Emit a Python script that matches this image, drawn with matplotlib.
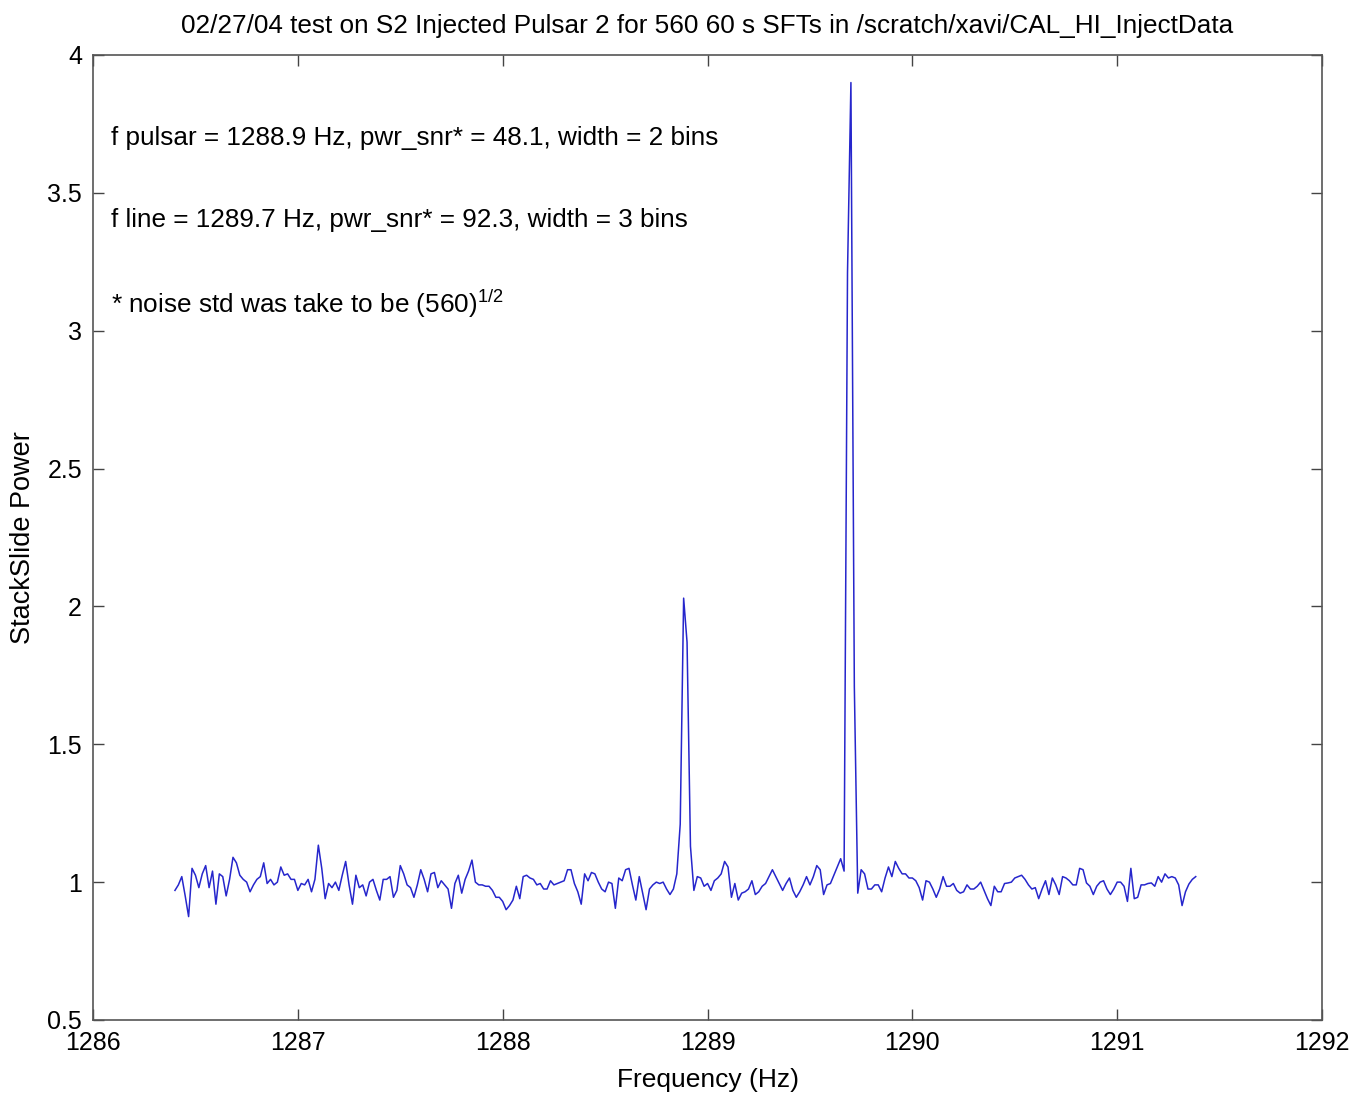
import matplotlib
matplotlib.use("Agg")
import matplotlib.pyplot as plt
import numpy as np
from matplotlib.ticker import FuncFormatter

plt.rcParams['font.family'] = ['Liberation Sans', 'DejaVu Sans']
plt.rcParams['mathtext.fontset'] = 'custom'
plt.rcParams['mathtext.rm'] = 'Liberation Sans'

# frequency grid: 60 s SFTs -> 1/60 Hz bins
f_start = 1286.4
df = 1.0 / 60

# StackSlide power
noise_a = [
    0.97, 0.99, 1.02, 0.95, 0.875, 1.05, 1.025, 0.98, 1.03, 1.06,
    0.98, 1.04, 0.92, 1.03, 1.02, 0.95, 1.01, 1.09, 1.07, 1.025,
    1.01, 1.0, 0.965, 0.99, 1.01, 1.02, 1.07, 0.995, 1.01, 0.99,
    1.0, 1.055, 1.025, 1.03, 1.01, 1.01, 0.97, 0.995, 0.99, 1.01,
    0.965, 1.01, 1.134, 1.05, 0.94, 0.995, 0.98, 1.0, 0.97, 1.025,
    1.075, 0.99, 0.92, 1.025, 0.98, 0.99, 0.95, 1.0, 1.01, 0.97,
    0.935, 1.01, 1.01, 1.02, 0.945, 0.97, 1.06, 1.03, 0.99, 0.98,
    0.945, 0.99, 1.045, 1.01, 0.965, 1.03, 1.035, 0.98, 1.005, 0.99,
    0.975, 0.905, 0.995, 1.025, 0.96, 1.01, 1.04, 1.08, 1.0, 0.99,
    0.99, 0.985, 0.985, 0.97, 0.945, 0.945, 0.93, 0.9, 0.915, 0.935,
    0.985, 0.94, 1.02, 1.025, 1.015, 1.01, 0.99, 0.995, 0.975, 0.975,
    1.005, 0.99, 0.995, 1.0, 1.005, 1.045, 1.045, 0.995, 0.965, 0.92,
    1.03, 1.005, 1.035, 1.03, 1.0, 0.975, 0.965, 1.0, 0.995, 0.905,
    1.015, 1.005, 1.045, 1.05, 0.99, 0.935, 1.02, 0.96, 0.9, 0.975,
    0.99, 1.0, 0.995, 1.0, 0.975, 0.955, 0.975, 1.03,
]
peak_pulsar = [1.21, 2.03, 1.87, 1.13]
noise_b = [
    0.97, 1.02, 1.015, 0.985, 0.995, 0.97, 1.005, 1.015, 1.03, 1.075,
    1.055, 0.945, 0.995, 0.935, 0.96, 0.965, 0.975, 1.005, 0.955, 0.965,
    0.985, 0.995, 1.02, 1.045, 1.02, 0.995, 0.97, 0.995, 1.015, 0.97,
    0.945, 0.965, 0.99, 1.02, 0.99, 1.02, 1.06, 1.045, 0.955, 0.99,
    0.995, 1.025, 1.055, 1.085, 1.04,
]
peak_line = [3.21, 3.90, 1.71]
noise_c = [
    0.96, 1.045, 1.03, 0.975, 0.975, 0.99, 0.99, 0.965, 1.015, 1.055,
    1.02, 1.075, 1.05, 1.03, 1.03, 1.015, 1.015, 1.005, 0.98, 0.935,
    1.005, 1.0, 0.975, 0.945, 0.975, 1.02, 0.985, 0.985, 0.995, 0.97,
    0.96, 0.965, 0.99, 0.975, 0.975, 0.985, 1.0, 0.97, 0.94, 0.915,
    0.985, 0.965, 0.965, 0.995, 0.997, 1.0, 1.015, 1.02, 1.025, 1.01,
    0.99, 0.975, 0.98, 0.94, 0.975, 1.005, 0.955, 1.015, 0.99, 0.955,
    1.02, 1.015, 1.005, 0.99, 0.99, 1.05, 1.045, 0.997, 0.985, 0.955,
    0.985, 1.0, 1.005, 0.975, 0.955, 0.975, 1.0, 1.0, 0.985, 0.93,
    1.05, 0.94, 0.945, 0.99, 0.99, 0.995, 0.997, 0.985, 1.02, 1.0,
    1.03, 1.015, 1.02, 1.015, 0.99, 0.915, 0.965, 0.993, 1.01, 1.02,
]

power = np.array(noise_a + peak_pulsar + noise_b + peak_line + noise_c)
freq = f_start + np.arange(len(power)) * df

x_ticks = [1286, 1287, 1288, 1289, 1290, 1291, 1292]
y_ticks = [0.5, 1, 1.5, 2, 2.5, 3, 3.5, 4]

title = "02/27/04 test on S2 Injected Pulsar 2 for 560 60 s SFTs in /scratch/xavi/CAL_HI_InjectData"
notes = [
    (3.7, "f pulsar = 1288.9 Hz, pwr_snr* = 48.1, width = 2 bins"),
    (3.4, "f line = 1289.7 Hz, pwr_snr* = 92.3, width = 3 bins"),
    (3.1, r"* noise std was take to be (560)$^{\mathrm{1/2}}$"),
]

fig = plt.figure(figsize=(13.54, 10.93), dpi=100)
ax = fig.add_axes([0.0687, 0.0668, 0.9077, 0.8829])

ax.plot(freq, power, color=(0.15, 0.15, 0.8), lw=1.1)

ax.set_xlim(1286, 1292)
ax.set_ylim(0.5, 4)
ax.set_xticks(x_ticks)
ax.set_yticks(y_ticks)
ax.yaxis.set_major_formatter(FuncFormatter(lambda v, p: "%g" % v))
ax.tick_params(direction='in', length=8, width=1, color='#444444',
               top=True, right=True, labelsize=18, pad=8)
for s in ax.spines.values():
    s.set_color('#555555')
    s.set_linewidth(1.2)

for y, txt in notes:
    ax.text(1286.09, y, txt, fontsize=18.8, va='center', ha='left')

ax.set_title(title, fontsize=18.8, pad=16)
ax.set_xlabel("Frequency (Hz)", fontsize=19, labelpad=9)
ax.set_ylabel("StackSlide Power", fontsize=19.5, labelpad=8)

plt.savefig("out.png", dpi=100)
plt.close()
